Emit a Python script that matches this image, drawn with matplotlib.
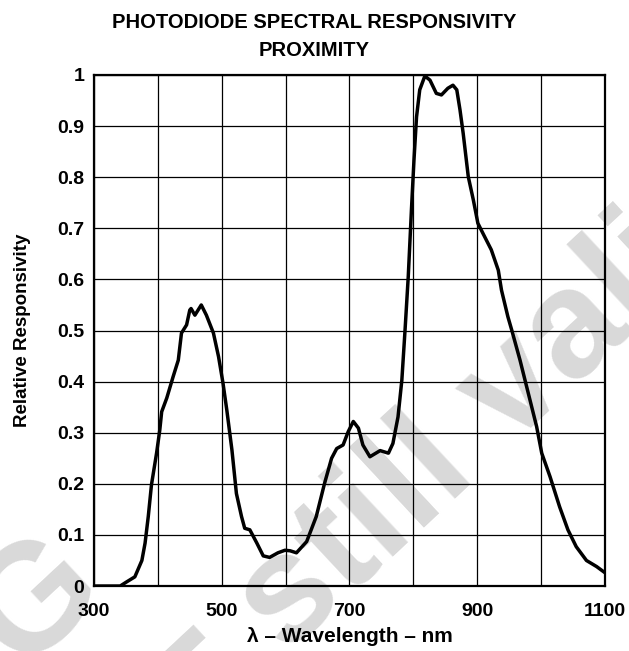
import matplotlib.pyplot as plt

plt.rcParams['font.family'] = ['Liberation Sans', 'DejaVu Sans']
plt.rcParams['font.weight'] = 'bold'
plt.rcParams['axes.titleweight'] = 'bold'
plt.rcParams['axes.labelweight'] = 'bold'

# wavelength (nm) and relative responsivity
wavelength = [300, 320, 341, 351, 364, 375, 380, 385, 390, 398, 403, 406, 414, 424,
              432, 437, 445, 450, 452, 458, 468, 476, 487, 495, 502, 508, 516, 523,
              531, 536, 544, 555, 565, 575, 588, 599, 607, 617, 633, 648, 661, 672,
              680, 690, 698, 706, 714, 721, 732, 748, 761, 768, 776, 782, 787, 792,
              797, 801, 805, 810, 818, 826, 836, 844, 854, 862, 868, 873, 878, 886,
              894, 901, 909, 922, 933, 938, 948, 954, 967, 980, 993, 1001, 1014, 1029,
              1042, 1055, 1071, 1087, 1100]
response = [0.0, 0.0, 0.0, 0.008, 0.018, 0.05, 0.084, 0.136, 0.198, 0.26, 0.305, 0.341,
            0.368, 0.41, 0.442, 0.495, 0.511, 0.54, 0.543, 0.53, 0.55, 0.53, 0.495, 0.449,
            0.397, 0.344, 0.266, 0.181, 0.136, 0.113, 0.11, 0.084, 0.059, 0.056, 0.065,
            0.07, 0.069, 0.065, 0.087, 0.136, 0.201, 0.25, 0.269, 0.276, 0.302, 0.322,
            0.309, 0.276, 0.253, 0.265, 0.26, 0.279, 0.331, 0.403, 0.501, 0.605, 0.736,
            0.834, 0.918, 0.971, 0.998, 0.99, 0.964, 0.961, 0.974, 0.98, 0.971, 0.932,
            0.886, 0.801, 0.755, 0.71, 0.69, 0.658, 0.618, 0.579, 0.527, 0.501, 0.442,
            0.377, 0.312, 0.26, 0.214, 0.155, 0.11, 0.077, 0.05, 0.038, 0.026]

fig = plt.figure(figsize=(6.29, 6.51), dpi=100)
ax = fig.add_axes([0.1494, 0.0998, 0.8124, 0.785])
ax.patch.set_alpha(0)

# faint watermark behind the chart
wm = dict(fontsize=110, color='#d9d9d9', rotation=43, zorder=-1)
fig.text(0.455, -0.008, 'still valid', ha='left', va='baseline',
         rotation_mode='anchor', **wm)
fig.text(0.060, 0.075, 'G', ha='center', va='center', **wm)
fig.text(0.294, 0.017, '-', ha='center', va='center', **wm)

ax.plot(wavelength, response, color='black', lw=2.5, solid_joinstyle='round')

ax.set_xlim(300, 1100)
ax.set_ylim(0, 1)
ax.set_xticks(range(300, 1101, 100))
ax.set_xticklabels(['300', '', '500', '', '700', '', '900', '', '1100'])
ax.set_yticks([i / 10 for i in range(11)])
ax.set_yticklabels(['0', '0.1', '0.2', '0.3', '0.4', '0.5', '0.6', '0.7', '0.8', '0.9', '1'])
ax.tick_params(length=0, labelsize=14, pad=7)
ax.tick_params(axis='x', pad=12)
ax.grid(True, color='black', lw=0.9)
for s in ax.spines.values():
    s.set_linewidth(1.6)

ax.set_xlabel('\u03bb \u2013 Wavelength \u2013 nm', fontsize=15, labelpad=5)
ax.set_ylabel('Relative Responsivity', fontsize=13.5, labelpad=19)
ax.set_title('PHOTODIODE SPECTRAL RESPONSIVITY\nPROXIMITY', fontsize=14.5, pad=14,
             linespacing=1.6, x=0.43)

fig.savefig('out.png', dpi=100)
